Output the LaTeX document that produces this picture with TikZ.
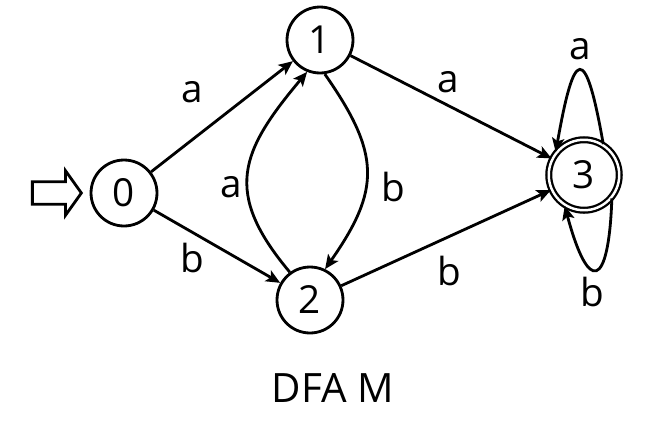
\documentclass[tikz,border=0pt]{standalone}
\usepackage{fontspec}
\setmainfont{Open Sans}
\usetikzlibrary{arrows.meta,positioning,shapes.arrows}
\tikzset{
  state/.style={draw, circle, line width=1.6pt, minimum size=1.32cm, inner sep=0pt, font=\fontsize{22}{26}\selectfont},
  accepting/.style={state, double, line width=1.3pt, double distance=1.4pt, minimum size=1.41cm},
  trans/.style={line width=1.6pt, -{Stealth[length=8pt,width=7pt,inset=1.8pt]}},
  edgelabel/.style={inner sep=0pt, font=\fontsize{22}{26}\selectfont},
}

\begin{document}
\begin{tikzpicture}[x=0.02cm, y=-0.02cm]
  \useasboundingbox (0,0) rectangle (667,423);
  \node[state] (q0) at (124,193) {0};
  \node[state] (q1) at (320,40) {1};
  \node[state] (q2) at (310,300) {2};
  \node[accepting] (q3) at (584,175) {3};
  \node[draw, single arrow, line width=1.6pt, minimum height=0.98cm, inner xsep=0pt, inner ysep=5.65pt,
        single arrow head extend=6.25pt, single arrow tip angle=109, left=3.7pt of q0] (start) {};
  \node[font=\fontsize{23}{27}\selectfont] (title) at (333,388) {DFA M};

  \draw[trans] (q0) -- node[edgelabel, shift={(-30,-24.5)}] {a} (q1);
  \draw[trans] (q0) -- node[edgelabel, shift={(-25,11.5)}] {b} (q2);
  \draw[trans] (q1) -- node[edgelabel, shift={(-3,-25)}] {a} (q3);
  \draw[trans] (q2) -- node[edgelabel, shift={(3,33)}] {b} (q3);
  \draw[trans] (q2.126) to[out=130, in=230, looseness=1.33] node[edgelabel, shift={(-17,15)}] {a} (q1.248);
  \draw[trans] (q1.278) to[out=305, in=55, looseness=1.28] node[edgelabel, shift={(27,15.5)}] {b} (q2.64);
  \draw[trans] (q3.58) to[out=100, in=80, looseness=5.57] node[edgelabel, shift={(1,-21)}] {a} (q3.141);
  \draw[trans] (q3.320) to[out=268, in=285, looseness=4.9] node[edgelabel, shift={(-4,22)}] {b} (q3.238);
\end{tikzpicture}
\end{document}
